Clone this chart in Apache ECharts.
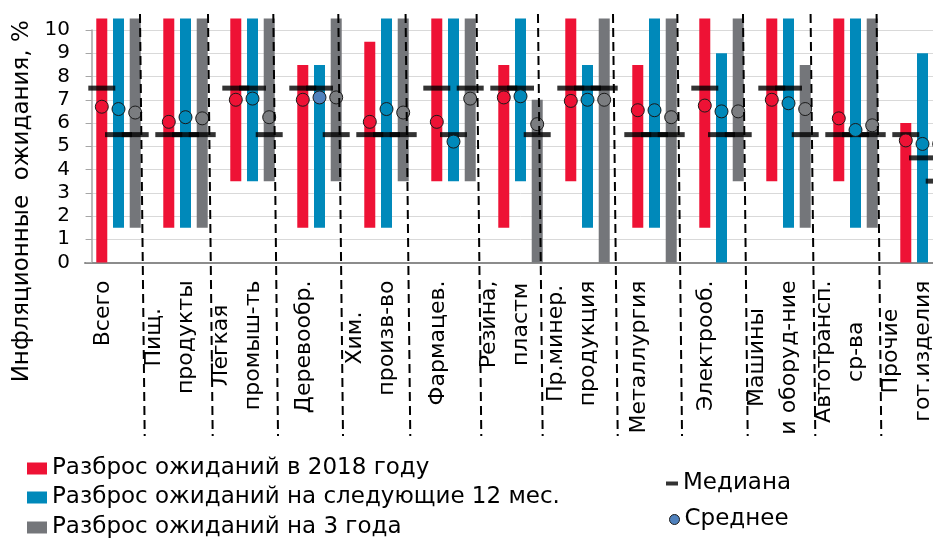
<!DOCTYPE html>
<html>
<head>
<meta charset="utf-8">
<script src="https://cdn.jsdelivr.net/npm/echarts@6/dist/echarts.min.js"></script>
<style>
  html, body { margin: 0; padding: 0; background: #fff; overflow: hidden; }
  #chart { width: 956px; height: 538px; }
</style>
</head>
<body>
<div id="chart"></div>
<script>
// Industries (two-line captions use \n)
const categories = [
  'Всего', 'Пищ.\nпродукты', 'Лёгкая\nпромыш-ть', 'Деревообр.', 'Хим.\nпроизв-во',
  'Фармацев.', 'Резина,\nпластм', 'Пр.минер.\nпродукция', 'Металлургия', 'Электрооб.',
  'Машины\nи оборуд-ние', 'Автотрансп.\nср-ва', 'Прочие\nгот.изделия'
];

// Spread of expectations, [low, high], %
const range2018 = [[0,10.5],[1.5,10.5],[3.5,10.5],[1.5,8.5],[1.5,9.5],[3.5,10.5],[1.5,8.5],[3.5,10.5],[1.5,8.5],[1.5,10.5],[3.5,10.5],[3.5,10.5],[0,6]];
const range12m  = [[1.5,10.5],[1.5,10.5],[3.5,10.5],[1.5,8.5],[1.5,10.5],[3.5,10.5],[3.5,10.5],[1.5,8.5],[1.5,10.5],[0,9],[1.5,10.5],[1.5,10.5],[0,9]];
const range3y   = [[1.5,10.5],[1.5,10.5],[3.5,10.5],[3.5,10.5],[3.5,10.5],[3.5,10.5],[0,7],[0,10.5],[0,10.5],[3.5,10.5],[1.5,8.5],[1.5,10.5],[0,9]];

// Medians
const median2018 = [7.5,5.5,7.5,7.5,5.5,7.5,7.5,7.5,5.5,7.5,7.5,5.5,5.5];
const median12m  = [5.5,5.5,7.5,7.5,5.5,5.5,7.5,7.5,5.5,5.5,7.5,5.5,4.5];
const median3y   = [5.5,5.5,5.5,5.5,5.5,7.5,5.5,7.5,5.5,5.5,5.5,5.5,3.5];

// Means
const mean2018 = [6.7,6.05,7.0,7.0,6.05,6.05,7.1,6.95,6.55,6.75,7.0,6.2,5.25];
const mean12m  = [6.6,6.25,7.05,7.1,6.6,5.2,7.15,7.0,6.55,6.5,6.85,5.7,5.1];
const mean3y   = [6.45,6.2,6.25,7.1,6.45,7.05,5.95,7.0,6.25,6.5,6.6,5.9,5.1];

// Y axis ticks
const yTicks = { min: 0, max: 10, step: 1 };

// Dashed separators between industries, in category units (category k spans [k, k+1])
const separators = [0.861, 1.876, 2.851, 3.821, 4.825, 5.885, 6.801, 7.921, 8.881, 9.861, 10.870, 11.855];

const names = {
  r: 'Разброс ожиданий в 2018 году',
  b: 'Разброс ожиданий на следующие 12 мес.',
  g: 'Разброс ожиданий на 3 года',
  med: 'Медиана',
  mean: 'Среднее'
};

const RED = '#EE1235', BLUE = '#0089BA', GRAY = '#74767A', STEEL = '#4F81BD';
const FONT = 'DejaVu Sans';
const BAR_W = 11, SHIFT = 16.7;
const legendText = { fontSize: 23, lineHeight: 23, color: '#000', fontFamily: FONT };

function rangeSeries(id, name, ranges, color) {
  return [
    {
      name: id + '-base', type: 'bar', stack: id, barWidth: BAR_W, barGap: '52%',
      data: ranges.map(r => r[0]), itemStyle: { color: 'transparent' }, silent: true, z: 2
    },
    {
      name: name, type: 'bar', stack: id, barWidth: BAR_W, barGap: '52%', clip: false,
      data: ranges.map(r => r[1] - r[0]), itemStyle: { color: color }, z: 2
    }
  ];
}

function medianSeries(values, dx) {
  return {
    name: names.med, type: 'scatter', data: values, symbol: 'rect',
    symbolSize: [27, 5], symbolOffset: [dx, 0], itemStyle: { color: '#000' }, z: 3, clip: false
  };
}

function meanSeries(values, dx, color) {
  return {
    name: names.mean, type: 'scatter', data: values, symbol: 'circle',
    symbolSize: 13, symbolOffset: [dx, 0],
    itemStyle: { color: color, borderColor: '#1a1a1a', borderWidth: 1, opacity: 1 }, z: 4, clip: false
  };
}

function legendRow(item, left, top, w, h) {
  return {
    data: [item], orient: 'horizontal', left: left, top: top,
    itemWidth: w, itemHeight: h, selectedMode: false, textStyle: legendText
  };
}

const mean12mData = mean12m.map((v, i) =>
  categories[i] === 'Деревообр.' ? { value: v, itemStyle: { color: STEEL } } : v);

const chart = echarts.init(document.getElementById('chart'), null, { renderer: 'canvas' });

const option = {
  animation: false,
  textStyle: { fontFamily: FONT },
  grid: { left: 85, right: 0, top: 30, bottom: 275.5, containLabel: false },
  xAxis: {
    type: 'category',
    data: categories,
    axisLine: { lineStyle: { color: '#8c8c8c', width: 2 } },
    axisTick: { show: false },
    splitLine: { show: false },
    axisLabel: {
      interval: 0, rotate: 90, margin: 18, padding: [0, 0, 30, 0],
      formatter: v => v.split('\n').map(s => '{c|' + s + '}').join('\n'),
      rich: { c: { align: 'center', fontSize: 22, lineHeight: 32, color: '#000', fontFamily: FONT } }
    }
  },
  yAxis: {
    type: 'value', min: yTicks.min, max: yTicks.max, interval: yTicks.step, offset: -7,
    axisLine: { show: true, lineStyle: { color: '#a6a6a6', width: 1.5 } },
    axisTick: { show: true, length: 6, lineStyle: { color: '#a6a6a6' } },
    axisLabel: { fontSize: 20, color: '#000', margin: 22, fontFamily: FONT },
    splitLine: { lineStyle: { color: '#d9d9d9', width: 1 } },
    name: 'Инфляционные  ожидания, %',
    nameLocation: 'middle', nameGap: 56, nameRotate: 90,
    nameTextStyle: { fontSize: 23, color: '#000', fontFamily: FONT, padding: [0, 110, 0, 0] }
  },
  legend: [
    legendRow({ name: names.r, icon: 'rect' }, 22, 452, 20, 12),
    legendRow({ name: names.b, icon: 'rect' }, 22, 481, 20, 12),
    legendRow({ name: names.g, icon: 'rect' }, 22, 511, 20, 12),
    legendRow({ name: names.med, icon: 'rect', itemStyle: { color: '#000' } }, 661, 467, 12, 4),
    legendRow({ name: names.mean, icon: 'circle',
      itemStyle: { color: STEEL, borderColor: '#1a1a1a', borderWidth: 1 } }, 664, 503, 10, 10)
  ],
  series: [
    ...rangeSeries('r', names.r, range2018, RED),
    ...rangeSeries('b', names.b, range12m, BLUE),
    ...rangeSeries('g', names.g, range3y, GRAY),
    medianSeries(median2018, -SHIFT),
    medianSeries(median12m, 0),
    medianSeries(median3y, SHIFT),
    meanSeries(mean2018, -SHIFT, RED),
    meanSeries(mean12mData, 0, BLUE),
    meanSeries(mean3y, SHIFT, '#7B7D80')
  ]
};

chart.setOption(option);

// Dashed separators, positioned through the category axis
const c0 = chart.convertToPixel({ xAxisIndex: 0 }, 0);
const c1 = chart.convertToPixel({ xAxisIndex: 0 }, 1);
const band = c1 - c0;
const left0 = c0 - band / 2;
chart.setOption({
  graphic: separators.map(u => {
    const x = left0 + u * band;
    return {
      type: 'line', z: 100, silent: true,
      shape: { x1: x - 2.7, y1: 14, x2: x + 2, y2: 436 },
      style: { stroke: '#000', lineWidth: 2, lineDash: [9, 5] }
    };
  })
});
</script>
</body>
</html>
